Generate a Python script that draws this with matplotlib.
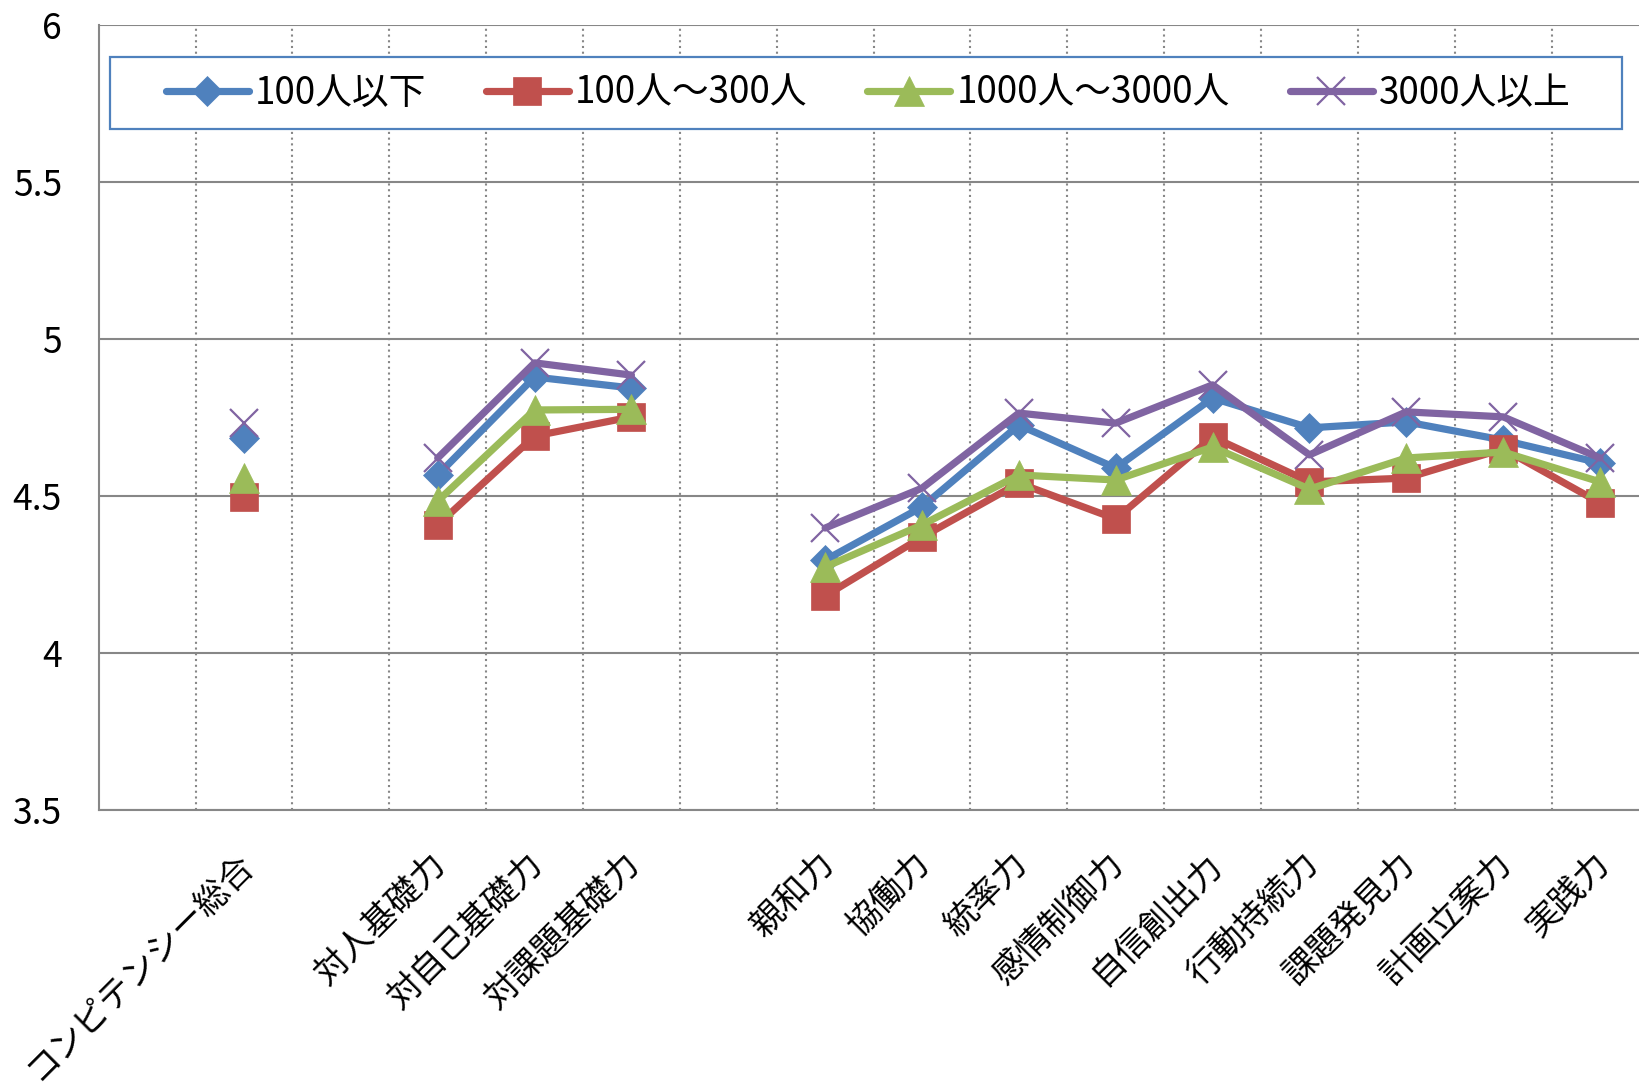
import numpy as np
import matplotlib
matplotlib.use("Agg")
import matplotlib.pyplot as plt
from matplotlib.patches import Rectangle
from matplotlib.transforms import ScaledTranslation

plt.rcParams['font.family'] = ['Noto Sans CJK JP', 'DejaVu Sans']

# Category slots (empty strings are spacer slots between groups)
categories = ['', 'コンピテンシー総合', '', '対人基礎力', '対自己基礎力', '対課題基礎力', '',
              '親和力', '協働力', '統率力', '感情制御力', '自信創出力', '行動持続力',
              '課題発見力', '計画立案力', '実践力']

series_names = ['100人以下', '100人～300人', '1000人～3000人', '3000人以上']

under_100 = [None, 4.685, None, 4.567, 4.879, 4.844, None,
             4.296, 4.465, 4.726, 4.589, 4.812, 4.717, 4.736, 4.678, 4.605]
from_100_to_300 = [None, 4.497, None, 4.408, 4.691, 4.752, None,
                   4.182, 4.369, 4.541, 4.427, 4.688, 4.545, 4.557, 4.650, 4.478]
from_1000_to_3000 = [None, 4.557, None, 4.484, 4.774, 4.776, None,
                     4.274, 4.408, 4.567, 4.551, 4.656, 4.522, 4.621, 4.640, 4.545]
over_3000 = [None, 4.732, None, 4.621, 4.924, 4.885, None,
             4.398, 4.525, 4.764, 4.732, 4.854, 4.631, 4.768, 4.752, 4.621]

y_ticks = [3.5, 4, 4.5, 5, 5.5, 6]
y_tick_labels = ['3.5', '4', '4.5', '5', '5.5', '6']

colors = ['#4F81BD', '#C0504D', '#9BBB59', '#8064A2']
markers = ['D', 's', '^', 'x']
marker_sizes = [15.0, 20.5, 21.5, 20.0]

W, H = 1639, 1087
fig = plt.figure(figsize=(W / 100, H / 100), dpi=100)
fig.patch.set_facecolor('white')

# plot area: slot width ~96.86 px, 16 slots; the right end runs past the canvas
left_px, top_px, bottom_px = 98.7, 25, 810
slot_px = 96.86
right_px = left_px + 16 * slot_px
ax = fig.add_axes([left_px / W, (H - bottom_px) / H,
                   (right_px - left_px) / W, (bottom_px - top_px) / H])

x = np.arange(len(categories))
all_series = [under_100, from_100_to_300, from_1000_to_3000, over_3000]
for name, vals, c, m, ms in zip(series_names, all_series, colors, markers, marker_sizes):
    y = np.array([np.nan if v is None else v for v in vals], dtype=float)
    if m == 'x':
        ax.plot(x, y, color=c, lw=5.2, marker=m, markersize=ms, markeredgewidth=1.6,
                markeredgecolor=c, solid_capstyle='round', solid_joinstyle='round',
                label=name, clip_on=False)
    else:
        ax.plot(x, y, color=c, lw=5.2, marker=m, markersize=ms, markeredgewidth=0.5,
                markeredgecolor=c, markerfacecolor=c, solid_capstyle='round',
                solid_joinstyle='round', label=name, clip_on=False)

ax.set_xlim(-0.5, len(categories) - 0.5)
ax.set_ylim(3.5, 6)

grid_color = '#878787'
ax.set_yticks(y_ticks, y_tick_labels)
ax.tick_params(axis='y', length=0, pad=26.5, labelsize=25.5, labelcolor='black')
ax.yaxis.grid(True, color=grid_color, lw=1.5, ls='-')

ax.set_xticks(x, categories)
ax.set_xticks(np.arange(0.5, len(categories) - 1, 1.0), minor=True)
ax.tick_params(axis='x', which='both', length=0)
ax.tick_params(axis='x', which='major', pad=35, labelsize=24.5, labelcolor='black')
ax.xaxis.grid(True, which='minor', color=grid_color, lw=1.5, ls=(0, (1, 1.75)))
ax.xaxis.grid(False, which='major')
shift = ScaledTranslation(4 / 100, 0, fig.dpi_scale_trans)
for lbl in ax.get_xticklabels():
    lbl.set_rotation(45)
    lbl.set_ha('right')
    lbl.set_va('center')
    lbl.set_rotation_mode('anchor')
    lbl.set_transform(lbl.get_transform() + shift)

ax.set_axisbelow(True)
for side in ['top', 'right']:
    ax.spines[side].set_visible(False)
for side in ['left', 'bottom']:
    ax.spines[side].set_color(grid_color)
    ax.spines[side].set_linewidth(1.5)

# legend box
box = Rectangle((110 / W, 1 - 129 / H), 1512 / W, 72 / H, transform=fig.transFigure,
                facecolor='white', edgecolor='#4F81BD', lw=1.6, zorder=10, clip_on=False)
ax.add_patch(box)
em = 26.5 * 100 / 72
leg = ax.legend(ncol=4, frameon=False, loc='center',
                bbox_to_anchor=(868 / W, 1 - 93 / H), bbox_transform=fig.transFigure,
                fontsize=26.5, handlelength=83 / em, handletextpad=6 / em,
                columnspacing=60 / em, borderpad=0, borderaxespad=0)
leg.set_zorder(11)

fig.savefig('out.png', dpi=100, facecolor='white')
